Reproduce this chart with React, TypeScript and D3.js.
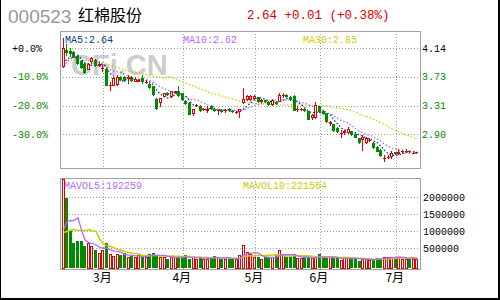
import React from 'react';
import * as d3 from 'd3';

// ---- data ----
const open = [3.87,4.12,4.10,4.09,4.03,3.95,3.92,3.83,3.94,3.97,3.89,3.84,3.84,3.59,3.60,3.61,3.73,3.73,3.70,3.73,3.66,3.66,3.71,3.65,3.63,3.59,3.41,3.35,3.44,3.50,3.43,3.50,3.52,3.49,3.38,3.35,3.19,3.31,3.31,3.25,3.24,3.31,3.27,3.23,3.25,3.23,3.27,3.24,3.21,3.22,3.35,3.40,3.39,3.41,3.43,3.37,3.39,3.37,3.32,3.37,3.37,3.45,3.47,3.44,3.45,3.25,3.26,3.27,3.23,3.14,3.14,3.30,3.24,3.20,3.05,3.04,2.99,2.90,2.92,2.91,2.94,2.90,2.84,2.82,2.77,2.80,2.78,2.72,2.67,2.55,2.56,2.57,2.64,2.62,2.64,2.65,2.66,2.62,2.63];
const high = [4.29,4.20,4.15,4.10,4.05,3.96,3.93,3.93,4.02,3.99,3.94,3.90,3.85,3.66,3.72,3.76,3.74,3.74,3.76,3.74,3.73,3.70,3.76,3.68,3.64,3.60,3.42,3.42,3.50,3.51,3.53,3.53,3.59,3.50,3.39,3.36,3.27,3.34,3.32,3.28,3.30,3.32,3.28,3.26,3.26,3.27,3.28,3.25,3.24,3.27,3.57,3.46,3.46,3.47,3.44,3.41,3.40,3.38,3.41,3.38,3.49,3.49,3.48,3.45,3.46,3.30,3.28,3.28,3.24,3.19,3.36,3.31,3.25,3.21,3.09,3.05,3.00,2.96,2.96,3.01,2.95,2.91,2.85,2.89,2.86,2.84,2.79,2.73,2.68,2.60,2.60,2.66,2.65,2.68,2.67,2.68,2.67,2.66,2.65];
const low = [3.86,4.03,4.02,4.00,3.90,3.84,3.77,3.82,3.91,3.87,3.87,3.80,3.59,3.52,3.59,3.59,3.67,3.66,3.62,3.66,3.65,3.65,3.63,3.63,3.55,3.45,3.25,3.29,3.43,3.45,3.42,3.48,3.43,3.38,3.32,3.17,3.16,3.29,3.22,3.23,3.21,3.25,3.22,3.18,3.21,3.21,3.22,3.21,3.19,3.14,3.33,3.38,3.38,3.40,3.35,3.35,3.35,3.31,3.31,3.32,3.36,3.42,3.42,3.38,3.23,3.22,3.24,3.22,3.10,3.10,3.12,3.21,3.18,3.06,3.02,2.93,2.92,2.84,2.89,2.90,2.88,2.84,2.76,2.66,2.76,2.79,2.69,2.64,2.57,2.50,2.54,2.54,2.60,2.60,2.62,2.63,2.63,2.61,2.62];
const close = [4.14,4.07,4.06,4.02,3.91,3.85,3.78,3.92,4.00,3.88,3.91,3.86,3.60,3.61,3.71,3.73,3.68,3.67,3.72,3.67,3.69,3.68,3.65,3.66,3.56,3.46,3.27,3.42,3.49,3.46,3.52,3.52,3.45,3.39,3.33,3.18,3.26,3.32,3.23,3.27,3.27,3.26,3.23,3.25,3.22,3.25,3.23,3.22,3.22,3.27,3.41,3.45,3.45,3.45,3.36,3.39,3.36,3.32,3.39,3.33,3.46,3.47,3.43,3.39,3.24,3.27,3.27,3.23,3.11,3.17,3.32,3.22,3.19,3.07,3.07,2.94,2.93,2.92,2.94,2.98,2.89,2.85,2.77,2.86,2.85,2.82,2.70,2.65,2.58,2.56,2.57,2.63,2.62,2.64,2.66,2.66,2.64,2.63,2.64];
const volume = [2600000,1980000,1020000,660000,720000,720000,570000,660000,570000,460000,360000,460000,660000,330000,280000,330000,290000,
  350000,240000,260000,240000,300000,250000,250000,330000,370000,270000,240000,240000,200000,250000,240000,240000,240000,300000,180000,240000,200000,240000,200000,180000,220000,280000,240000,180000,200000,180000,180000,200000,300000,
  600000,380000,320000,250000,250000,200000,230000,230000,250000,300000,450000,320000,250000,250000,320000,
  210000,210000,230000,230000,210000,230000,330000,250000,210000,230000,210000,220000,160000,210000,210000,210000,210000,130000,180000,180000,160000,160000,210000,210000,240000,250000,230000,250000,250000,180000,190000,200000,190000,200000];

// moving-average values for the first bars (windows reaching before the visible range)
const ma5Lead = [3.92, 3.99, 4.01, 4.00];
const ma10Lead = [3.88, 3.95, 3.99, 4.00, 3.99, 3.96, 3.93, 3.91, 3.90];
const ma30Lead = [3.96,3.96,3.97,3.97,3.97,3.97,3.97,3.96,3.96,3.95,3.94,3.93,3.91,3.89,3.87,3.86,3.84,3.83,3.81,3.80,3.79,3.78,3.77,3.76,3.75,3.74,3.73,3.72,3.71];
const mavol5Lead = [1050000, 1290000, 1310000, 1330000];
const mavol10Lead = [960000, 1000000, 1040000, 1050000, 1030000, 1020000, 1020000, 1050000, 1010000];

const monthLabels = ['3月', '4月', '5月', '6月', '7月'];
const monthIndex = [11, 33, 53, 71, 92];
const pctTicks = [0, -10, -20, -30];
const volTicks = [500000, 1000000, 1500000, 2000000];
const basePrice = 4.14;
const maNames = ['MA5', 'MA10', 'MA30'];
const maValues = ['2.64', '2.62', '2.85'];
const volMaNames = ['MAVOL5', 'MAVOL10'];
const volMaValues = ['192259', '221564'];

const RED = '#e00000';
const GREEN = '#008a00';
const BLUE = '#0a3d91';
const PURPLE = '#b36bff';
const YELLOW = '#cccc00';
const GRID = '#a0a0a0';
const MONO = '"Liberation Mono", "DejaVu Sans Mono", monospace';

function movingAvg(vals: number[], n: number, lead: number[]) {
  return vals.map((_, i) => (i < n - 1 ? lead[i] : d3.mean(vals.slice(i - n + 1, i + 1)) as number));
}

export default function App() {
  const W = 500, H = 300;
  const L = 60, R = 420, T = 31, B = 168, VT = 178, VB = 269;
  const N = close.length;
  const x = d3.scaleLinear().domain([0, N - 1]).range([63.6, 63.6 + 3.61 * (N - 1)]);
  const y = d3.scaleLinear().domain([basePrice * 0.7, basePrice]).range([134.33, 48.33]);
  const yv = d3.scaleLinear().domain([0, 2000000]).range([265.3, 197.3]);

  const ma5 = movingAvg(close, 5, ma5Lead);
  const ma10 = movingAvg(close, 10, ma10Lead);
  const ma30 = movingAvg(close, 30, ma30Lead);
  const mv5 = movingAvg(volume, 5, mavol5Lead);
  const mv10 = movingAvg(volume, 10, mavol10Lead);

  const line = (arr: number[]) => d3.line<number>().x((_, i) => x(i)).y((d) => y(d))(arr) || '';
  const vline = (arr: number[]) => d3.line<number>().x((_, i) => x(i)).y((d) => Math.max(VT + 1, yv(d)))(arr) || '';

  const last = close[N - 1], prev = close[N - 2];
  const chg = last - prev;
  const header = `${last.toFixed(2)} ${chg >= 0 ? '+' : ''}${chg.toFixed(2)} (${chg >= 0 ? '+' : ''}${((chg / prev) * 100).toFixed(2)}%)`;

  return (
    <svg width={W} height={H} style={{ position: 'absolute', left: 0, top: 0, background: '#fff' }}>
      <rect x={0} y={0} width={W} height={H} fill="#fff" />
      {/* header */}
      <text x={8} y={23} fontFamily='"Liberation Sans", Arial, sans-serif' fontSize={19} fill="#999">000523</text>
      <text x={78} y={21} fontFamily='"Noto Sans CJK SC", sans-serif' fontSize={16} fill="#000">红棉股份</text>
      <text x={247} y={18.5} fontFamily={MONO} fontSize={12.5} fill={RED}>{header}</text>

      {/* watermark */}
      <text x={71} y={75} fontFamily='"Liberation Sans", Arial, sans-serif' fontWeight="bold" fontSize={29} fill="#cdcdcd">CFi.CN</text>

      {/* grid */}
      <g stroke={GRID} strokeWidth={1} strokeDasharray="1 2" shapeRendering="crispEdges">
        {pctTicks.map((p) => (
          <line key={'h' + p} x1={L} x2={R} y1={Math.round(y(basePrice * (1 + p / 100))) + 0.5} y2={Math.round(y(basePrice * (1 + p / 100))) + 0.5} />
        ))}
        {monthIndex.map((m) => (
          <line key={'v' + m} x1={Math.round(x(m)) + 0.5} x2={Math.round(x(m)) + 0.5} y1={T} y2={B} />
        ))}
        {volTicks.map((v) => (
          <line key={'vh' + v} x1={L} x2={R} y1={Math.round(yv(v)) + 0.5} y2={Math.round(yv(v)) + 0.5} />
        ))}
        {monthIndex.map((m) => (
          <line key={'vv' + m} x1={Math.round(x(m)) + 0.5} x2={Math.round(x(m)) + 0.5} y1={VT} y2={VB} />
        ))}
      </g>

      {/* axis labels */}
      {pctTicks.map((p) => (
        <text key={'pl' + p} x={12} y={y(basePrice * (1 + p / 100)) + 3.5} fontFamily={MONO} fontSize={10} fill={p === 0 ? '#000' : GREEN}>
          {(p >= 0 ? '+' : '') + p.toFixed(1) + '%'}
        </text>
      ))}
      {pctTicks.map((p) => (
        <text key={'pr' + p} x={422} y={y(basePrice * (1 + p / 100)) + 3.5} fontFamily={MONO} fontSize={10} fill={p === 0 ? '#000' : GREEN}>
          {(basePrice * (1 + p / 100)).toFixed(2)}
        </text>
      ))}
      {volTicks.map((v) => (
        <text key={'vl' + v} x={423} y={yv(v) + 3.5} fontFamily={MONO} fontSize={10} fill="#000">{v}</text>
      ))}
      {monthIndex.map((m, k) => (
        <text key={'ml' + m} x={x(m) - 1} y={282} textAnchor="middle" fontFamily='"Noto Sans CJK SC", sans-serif' fontSize={12} fill="#000">
          {monthLabels[k]}
        </text>
      ))}

      {/* legends */}
      {maNames.map((n, k) => (
        <text key={n} x={[65, 183, 303][k]} y={42.5} fontFamily={MONO} fontSize={10} fill={[BLUE, PURPLE, YELLOW][k]}>
          {n + ':' + maValues[k]}
        </text>
      ))}
      {volMaNames.map((n, k) => (
        <text key={n} x={[64, 243][k]} y={189} fontFamily={MONO} fontSize={10} fill={[PURPLE, YELLOW][k]}>
          {n + ':' + volMaValues[k]}
        </text>
      ))}

      {/* MA lines (price) */}
      <path d={line(ma30)} fill="none" stroke={YELLOW} strokeWidth={1.3} strokeDasharray="1.5 2" />
      <path d={line(ma10)} fill="none" stroke={PURPLE} strokeWidth={1.3} strokeDasharray="1.5 2" />
      <path d={line(ma5)} fill="none" stroke={BLUE} strokeWidth={1.3} strokeDasharray="1.5 2" />

      {/* candles */}
      <g shapeRendering="crispEdges">
        {close.map((c, i) => {
          const o = open[i];
          const cx = Math.round(x(i));
          const up = c >= o;
          const col = up ? RED : GREEN;
          const yt = Math.round(y(Math.max(o, c)));
          const yb = Math.round(y(Math.min(o, c)));
          return (
            <g key={'c' + i}>
              <line x1={cx - 0.5} x2={cx - 0.5} y1={Math.max(T + 1, y(high[i]))} y2={y(low[i])} stroke={col} strokeWidth={1} />
              {up ? (
                yb - yt >= 2 ? (
                  <rect x={cx - 1.5} y={yt + 0.5} width={2} height={yb - yt - 1} fill="#fff" stroke={col} strokeWidth={1} />
                ) : (
                  <rect x={cx - 2} y={yt} width={3} height={Math.max(1, yb - yt)} fill={col} />
                )
              ) : (
                <rect x={cx - 2} y={yt} width={3} height={Math.max(1, yb - yt)} fill={col} />
              )}
            </g>
          );
        })}
      </g>

      {/* volume bars */}
      <g shapeRendering="crispEdges">
        {volume.map((v, i) => {
          const cx = Math.round(x(i));
          const up = close[i] >= open[i];
          const top = Math.max(VT + 1, Math.round(yv(v)));
          return up ? (
            <rect key={'v' + i} x={cx - 1.5} y={top + 0.5} width={2} height={VB - 1 - top - 0.5} fill="#fff" stroke={RED} strokeWidth={1} />
          ) : (
            <rect key={'v' + i} x={cx - 2} y={top} width={3} height={VB - 1 - top} fill={GREEN} />
          );
        })}
      </g>
      <path d={vline(mv10)} fill="none" stroke={YELLOW} strokeWidth={1.5} />
      <path d={vline(mv5)} fill="none" stroke={PURPLE} strokeWidth={1.3} />

      {/* panel borders */}
      <rect x={L + 0.5} y={T + 0.5} width={R - L} height={B - T} fill="none" stroke={GRID} strokeWidth={1} />
      <rect x={L + 0.5} y={VT + 0.5} width={R - L} height={VB - VT} fill="none" stroke={GRID} strokeWidth={1} />

      {/* outer frame */}
      <g fill="#000">
        <rect x={0} y={0} width={1} height={H} />
        <rect x={W - 2} y={0} width={2} height={H} />
        <rect x={0} y={H - 2} width={W} height={2} />
      </g>
    </svg>
  );
}
